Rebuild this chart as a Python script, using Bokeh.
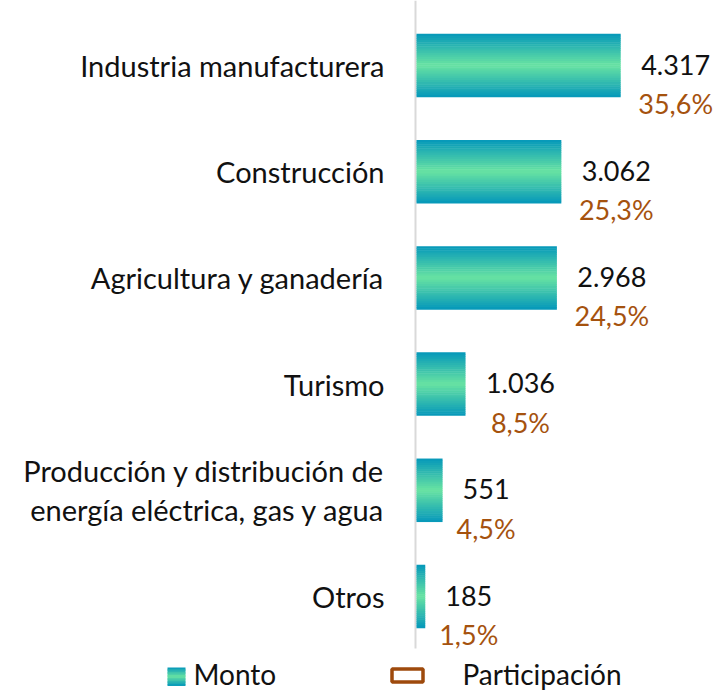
import numpy as np
from bokeh.plotting import figure
from bokeh.models import Range1d
from bokeh.core.properties import value
from bokeh.embed import file_html
from bokeh.resources import INLINE

categories = ["Industria manufacturera", "Construcción", "Agricultura y ganadería",
              "Turismo", "Producción y distribución de\nenergía eléctrica, gas y agua", "Otros"]
montos = [4317, 3062, 2968, 1036, 551, 185]
monto_labels = ["4.317", "3.062", "2.968", "1.036", "551", "185"]
participacion = ["35,6%", "25,3%", "24,5%", "8,5%", "4,5%", "1,5%"]
legend_labels = ["Monto", "Participación"]

FONT = "Lato"
FS_CAT = 29
FS_NUM = 27
FS_LEG = 28
W, H = 713, 690
x0_px = 416.0
xscale = 0.0473
ystep = 106.2
y_top = 5 + 65 / ystep
y_bot = y_top - H / ystep
x_start = -x0_px / xscale
x_end = (W - x0_px) / xscale

def dx(px):
    return x_start + px / xscale

def dy(py):
    return y_top - py / ystep

EDGE = np.array([5, 152, 186])
MID = np.array([104, 227, 162])

def grad_color(t):
    f = 1 - abs(2 * t - 1)
    c = EDGE + (MID - EDGE) * f
    return "#%02x%02x%02x" % tuple(int(round(v)) for v in c)

p = figure(width=W, height=H, output_backend="svg", toolbar_location=None,
           x_range=Range1d(x_start, x_end), y_range=Range1d(y_bot, y_top),
           min_border=0)
p.axis.visible = False
p.grid.visible = False
p.outline_line_color = None
p.background_fill_color = "white"
p.border_fill_color = "white"

# vertical axis line
p.segment(x0=[dx(415)], y0=[dy(648)], x1=[dx(415)], y1=[y_top], line_color="#D9D9D9", line_width=2)

n = len(categories)
pos = [n - 1 - i for i in range(n)]
bar_h = 63 / ystep
N = 30
ys, rights, hs, cols = [], [], [], []
for i in range(n):
    for k in range(N):
        t = (k + 0.5) / N
        ys.append(pos[i] + bar_h / 2 - t * bar_h)
        rights.append(montos[i])
        hs.append(bar_h / N * 1.25)
        cols.append(grad_color(t))
p.hbar(y=ys, left=0, right=rights, height=hs, fill_color=cols, line_color=None)

# category labels
p.text(x=[0] * n, y=pos, text=categories, x_offset=-32, text_align="right",
       text_baseline="middle", text_font=value(FONT), text_font_size=f"{FS_CAT}px",
       text_color="#111111", text_line_height=1.12)

# value labels
def est_w(s):
    w = 0
    for ch in s:
        w += 0.27 if ch in ".," else (0.85 if ch == "%" else 0.58)
    return w * FS_NUM

offs = [20 + est_w(s) / 2 for s in monto_labels]
p.text(x=montos, y=pos, text=monto_labels, x_offset=offs, y_offset=-1,
       text_align="center", text_baseline="middle", text_font=value(FONT),
       text_font_size=f"{FS_NUM}px", text_color="#111111")
p.text(x=montos, y=pos, text=participacion, x_offset=offs, y_offset=38,
       text_align="center", text_baseline="middle", text_font=value(FONT),
       text_font_size=f"{FS_NUM}px", text_color="#A5520E")

# legend
M = 12
sq_top, sq_bot = 667, 685
for k in range(M):
    t = (k + 0.5) / M
    yt = sq_top + (sq_bot - sq_top) * k / M
    yb = sq_top + (sq_bot - sq_top) * (k + 1) / M + 0.4
    p.quad(left=[dx(167)], right=[dx(185)], top=[dy(yt)], bottom=[dy(yb)],
           fill_color=grad_color(t), line_color=None)
p.quad(left=[dx(391.5)], right=[dx(422.5)], top=[dy(668.5)], bottom=[dy(681.5)],
       fill_color=None, line_color="#9E4A0C", line_width=3.5)
p.text(x=[dx(193), dx(462)], y=[dy(673), dy(673)], text=legend_labels,
       text_align="left", text_baseline="middle", text_font=value(FONT),
       text_font_size=f"{FS_LEG}px", text_color="#111111")

open("out.html", "w").write(file_html(p, INLINE))
